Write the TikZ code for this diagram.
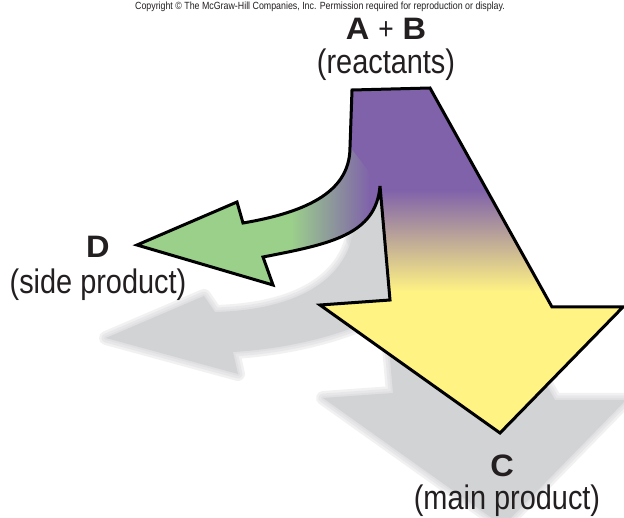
\documentclass[tikz,border=0pt]{standalone}
\usepackage{fontspec}
\newfontfamily\capfont[FakeStretch=0.85]{Liberation Sans}
\newfontfamily\keyfont[FakeStretch=1.05]{Liberation Sans Bold}
\usetikzlibrary{positioning}

\definecolor{reactpurple}{HTML}{8062AA}
\definecolor{mainyellow}{HTML}{FFF383}
\definecolor{sidegreen}{HTML}{9BD08B}
\definecolor{sideslate}{HTML}{7E8FA6}
\definecolor{floorgray}{HTML}{D2D3D5}
\definecolor{inkblack}{HTML}{231F20}

% outlines of the split arrow and of its shadows (pixel units, y down)
\newcommand{\fulloutline}{(352,90) -- (430,88) -- (552,307) -- (623,307) -- (500,433) -- (320,305) -- (390,300) -- (380,186) .. controls (376,235) and (330,244) .. (263,257) -- (273,285) -- (137,245) -- (237,202) -- (243,223) .. controls (320,210) and (350,185) .. (350,147) -- cycle}
\newcommand{\sideregion}{(137,245) -- (237,202) -- (243,223) .. controls (320,210) and (350,185) .. (350,147) -- (380,186) .. controls (376,235) and (330,244) .. (263,257) -- (273,285) -- cycle}
\newcommand{\mainshadow}{(355,183) -- (433,181) -- (555,400) -- (626,400) -- (503,526) -- (323,398) -- (393,393) -- (383,279) -- (353,240) -- cycle}
\newcommand{\sideshadow}{(398,205) -- (365,222) -- (352,238) .. controls (340,285) and (290,310) .. (215,312) -- (204,296) -- (106,338) -- (238,374) -- (233,352) .. controls (300,348) and (360,330) .. (400,305) -- cycle}

\begin{document}
\begin{tikzpicture}[
    x=1pt, y=-1pt,
    outline/.style={draw=black, line width=3pt, line join=miter},
    softshadow/.style={draw=floorgray, line join=round, opacity=0.3},
    key/.style={font=\keyfont\fontsize{31}{36}\selectfont, text=inkblack, inner sep=0pt},
    caption/.style={font=\capfont\fontsize{34}{40}\selectfont, text=inkblack, inner sep=0pt}
]
\useasboundingbox (0,0) rectangle (624,518);
\fill[white] (0,0) rectangle (624,518);

% shadows on the floor
\begin{scope}
\clip (0,0) rectangle (624,518);
\foreach \w in {14,9,4} {
  \path[softshadow, line width=\w pt] \sideshadow;
  \path[softshadow, line width=\w pt] \mainshadow;
}
\fill[floorgray] \sideshadow;
\fill[floorgray] \mainshadow;
\end{scope}

% main arrow: purple to yellow
\begin{scope}
\clip \fulloutline;
\fill[reactpurple] (100,80) rectangle (630,191);
\shade[top color=reactpurple, bottom color=mainyellow] (100,190) rectangle (630,292);
\fill[mainyellow] (100,291) rectangle (630,440);
\end{scope}

% side arrow: green to purple
\begin{scope}
\clip \sideregion;
\fill[sidegreen] (120,190) rectangle (292,300);
\shade[left color=sidegreen, middle color=sideslate, right color=reactpurple] (291,140) rectangle (370,300);
\fill[reactpurple] (369,140) rectangle (390,300);
\end{scope}

\draw[outline] \fulloutline;

% labels
\node[font=\capfont\fontsize{10.4}{12}\selectfont, text=inkblack, inner sep=0pt] (copyright) at (320,7) {Copyright © The McGraw-Hill Companies, Inc. Permission required for reproduction or display.};
\node[key, anchor=base] (ab) at (386,40) {A {\capfont+} B};
\node[caption, below=8pt of ab] (reactants) {(reactants)};
\node[key, anchor=base] (dnode) at (98,258) {D};
\node[caption, below=10pt of dnode] (side) {(side product)};
\node[key, anchor=base] (cnode) at (502,476) {C};
\node[caption, below=8pt of cnode, xshift=5pt] (main) {(main product)};
\end{tikzpicture}
\end{document}
